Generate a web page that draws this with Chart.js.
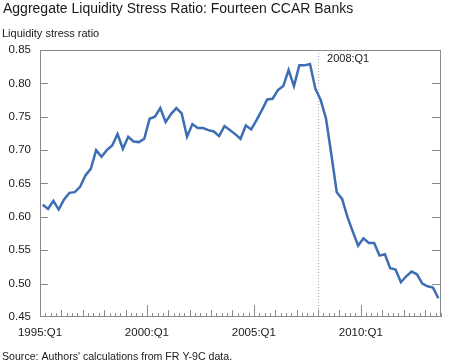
<!DOCTYPE html>
<html lang="en">
<head>
<meta charset="UTF-8">
<title>Aggregate Liquidity Stress Ratio: Fourteen CCAR Banks</title>
<script src="https://cdn.jsdelivr.net/npm/chart.js"></script>
<style>
  * { margin: 0; padding: 0; box-sizing: border-box; }
  body { background: #fff; width: 450px; height: 364px; overflow: hidden; }
  .wrap { position: relative; width: 450px; height: 364px; }
</style>
</head>
<body>
<div class="wrap"><canvas id="chart"></canvas></div>
<script>
// quarterly, 1995:Q1 .. 2013:Q3
const startYear = 1995;
const stressRatio = [
  0.618, 0.612, 0.624, 0.611, 0.626, 0.636, 0.637, 0.645, 0.662, 0.672,
  0.700, 0.690, 0.700, 0.707, 0.724, 0.702, 0.720, 0.713, 0.712, 0.717,
  0.747, 0.750, 0.763, 0.742, 0.754, 0.763, 0.755, 0.720, 0.739, 0.733,
  0.733, 0.730, 0.728, 0.721, 0.736, 0.730, 0.724, 0.717, 0.737, 0.731,
  0.745, 0.760, 0.776, 0.777, 0.790, 0.796, 0.820, 0.796, 0.827, 0.827,
  0.829, 0.792, 0.775, 0.747, 0.693, 0.637, 0.627, 0.600, 0.578, 0.557,
  0.568, 0.561, 0.561, 0.542, 0.544, 0.523, 0.521, 0.502, 0.511, 0.518,
  0.514, 0.500, 0.496, 0.494, 0.478
];
const quarterLabels = stressRatio.map((_, i) => (startYear + Math.floor(i / 4)) + ':Q' + (i % 4 + 1));
const xTickLabels = ['1995:Q1', '2000:Q1', '2005:Q1', '2010:Q1'];
const markerLabel = '2008:Q1';
const yMin = 0.45, yMax = 0.85, yStep = 0.05;

const FONT = "'Liberation Sans', Arial, sans-serif";
const TEXT = '#1a1a1a';
const FRAME = '#8a8a8a';

// points sit in the middle of their quarter, ticks on quarter boundaries
const points = stressRatio.map((v, i) => ({ x: i + 0.5, y: v }));

const decor = {
  id: 'decor',
  beforeDatasetsDraw(chart) {
    const { ctx, chartArea: a, scales: { x } } = chart;
    const px = Math.round(x.getPixelForValue(quarterLabels.indexOf(markerLabel))) + 0.5;
    ctx.save();
    ctx.strokeStyle = '#a8a8a8';
    ctx.lineWidth = 1;
    ctx.setLineDash([1, 2]);
    ctx.beginPath();
    ctx.moveTo(px, a.top);
    ctx.lineTo(px, a.bottom);
    ctx.stroke();
    ctx.restore();
  },
  afterDraw(chart) {
    const { ctx, chartArea: a, scales: { x, y } } = chart;
    ctx.save();
    ctx.strokeStyle = FRAME;
    ctx.lineWidth = 1;
    ctx.strokeRect(a.left + 0.5, a.top + 0.5, a.right - a.left - 1, a.bottom - a.top - 1);

    // quarter ticks, taller on years and five-year marks
    ctx.beginPath();
    for (let i = 0; i <= stressRatio.length; i++) {
      const px = Math.round(x.getPixelForValue(i)) + 0.5;
      const len = i % 20 === 0 ? 12 : (i % 4 === 0 ? 7 : 4);
      ctx.moveTo(px, a.bottom);
      ctx.lineTo(px, a.bottom - len);
    }
    // y ticks on both sides, pointing in
    for (let v = yMin + yStep; v < yMax - 1e-9; v += yStep) {
      const py = Math.round(y.getPixelForValue(v)) + 0.5;
      ctx.moveTo(a.left, py);
      ctx.lineTo(a.left + 8, py);
      ctx.moveTo(a.right, py);
      ctx.lineTo(a.right - 9, py);
    }
    ctx.stroke();

    ctx.fillStyle = TEXT;
    ctx.textAlign = 'left';
    ctx.textBaseline = 'alphabetic';
    ctx.font = '14px ' + FONT;
    ctx.fillText('Aggregate Liquidity Stress Ratio: Fourteen CCAR Banks', 3, 12.5);
    ctx.font = '11px ' + FONT;
    ctx.fillText('Liquidity stress ratio', 2, 37);
    ctx.fillText(markerLabel, x.getPixelForValue(quarterLabels.indexOf(markerLabel)) + 9, 61.5);
    ctx.font = '10.6px ' + FONT;
    ctx.fillText("Source: Authors' calculations from FR Y-9C data.", 2, 359.5);
    ctx.restore();
  }
};

new Chart(document.getElementById('chart'), {
  type: 'line',
  data: {
    datasets: [{
      data: points,
      borderColor: '#3d6eb4',
      borderWidth: 2.5,
      pointRadius: 0,
      tension: 0,
      fill: false
    }]
  },
  options: {
    responsive: true,
    maintainAspectRatio: false,
    animation: false,
    layout: { padding: { top: 50, right: 2, bottom: 0, left: 0 } },
    plugins: { legend: { display: false }, tooltip: { enabled: false } },
    scales: {
      x: {
        type: 'linear',
        min: 0,
        max: stressRatio.length,
        grid: { display: false, drawTicks: false },
        border: { display: false },
        afterFit(s) { s.height = 47; },
        ticks: {
          stepSize: 1,
          autoSkip: false,
          maxRotation: 0,
          padding: 9,
          color: TEXT,
          font: { family: FONT, size: 11.5 },
          callback: v => xTickLabels.includes(quarterLabels[v]) ? quarterLabels[v] : ''
        }
      },
      y: {
        min: yMin,
        max: yMax,
        grid: { display: false, drawTicks: false },
        border: { display: false },
        afterFit(s) { s.width = 40; },
        ticks: {
          stepSize: yStep,
          padding: 9,
          color: TEXT,
          font: { family: FONT, size: 11.5 },
          callback: v => v.toFixed(2)
        }
      }
    }
  },
  plugins: [decor]
});
</script>
</body>
</html>
